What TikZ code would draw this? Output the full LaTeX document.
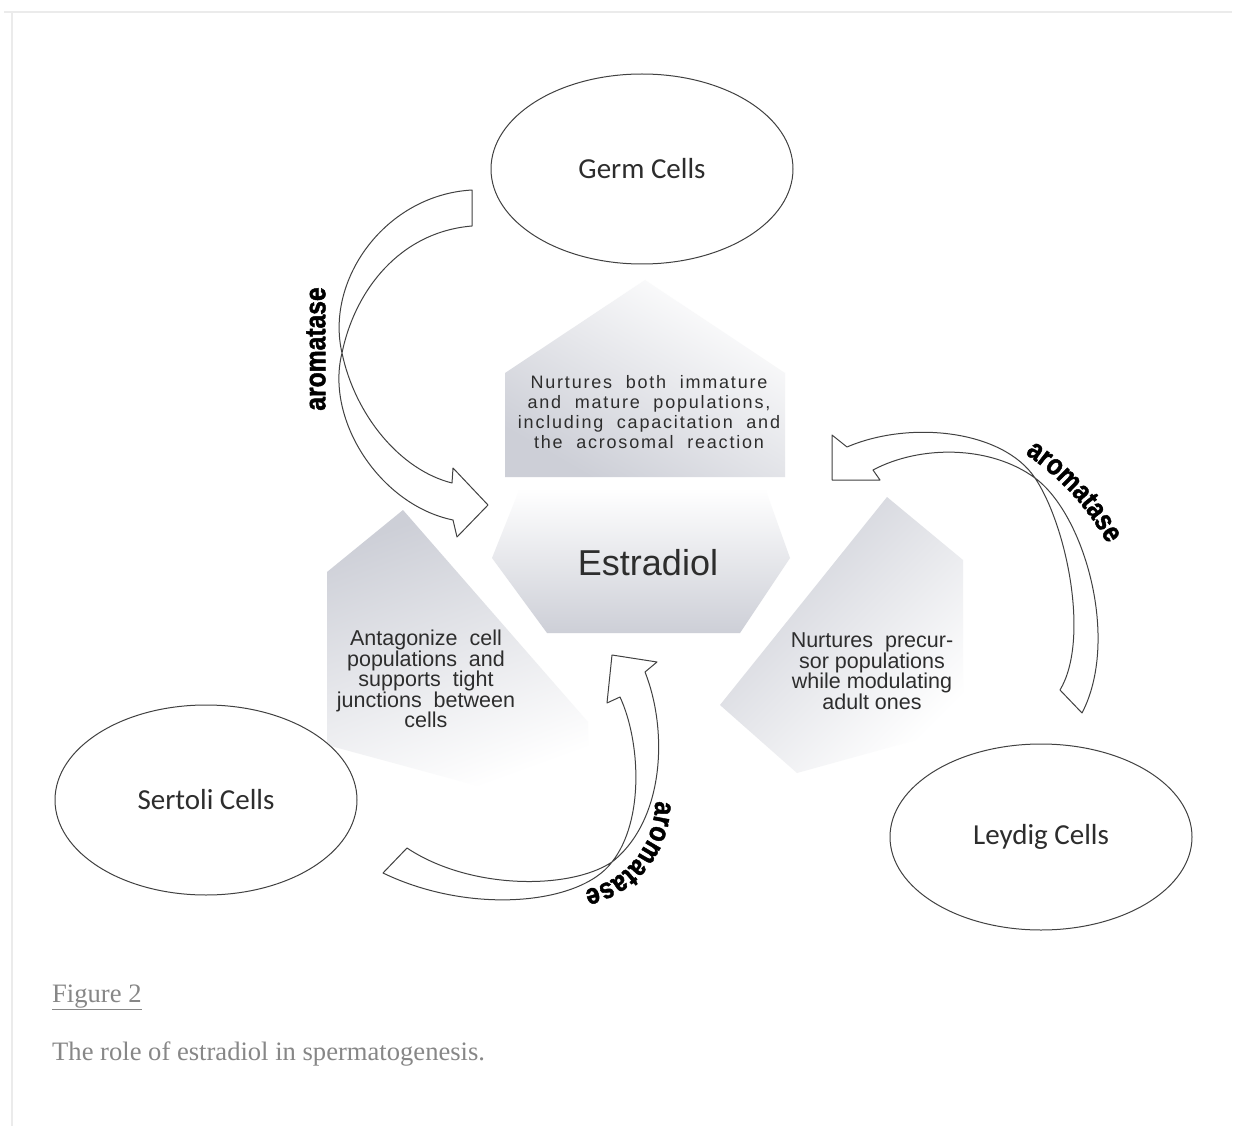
\documentclass[tikz,border=0pt]{standalone}
\usepackage{fontspec}
\setmainfont{Liberation Serif}
\newfontfamily\arialf{Liberation Sans}
\newfontfamily\spacedf{Liberation Sans}[LetterSpace=10]
\newfontfamily\calf{Carlito}
\newfontfamily\aromf{Liberation Sans Bold}[FakeStretch=0.85,FakeBold=1.5]
\usetikzlibrary{shapes.geometric,decorations.text}
\definecolor{pgray}{RGB}{205,207,215}
\definecolor{linec}{RGB}{65,65,65}
\definecolor{txtc}{RGB}{45,45,45}
\definecolor{capc}{RGB}{135,135,135}
\tikzset{
  cellnode/.style={ellipse, draw=linec, line width=1pt, fill=white,
    minimum width=302pt, minimum height=190pt, inner sep=0pt,
    font=\calf\fontsize{29}{30}\selectfont, text=txtc},
  blockarrow/.style={draw=linec, line width=1pt, fill=white, line join=round},
  ptext/.style={align=center, text=txtc, inner sep=0pt},
  aromlabel/.style={font=\aromf\fontsize{29}{29}\selectfont, text=black, inner sep=0pt},
  frameline/.style={draw=black!8, line width=1.5pt}
}
\begin{document}
\begin{tikzpicture}[x=1pt,y=-1pt]
\useasboundingbox (0,0) rectangle (1235,1126);
\fill[white] (0,0) rectangle (1235,1126);
\draw[frameline] (4,12) -- (1232,12);
\draw[frameline] (12,12) -- (12,1126);

% shaded pentagons
\shade[left color=white, right color=pgray, shading angle=-30]
  (645,280) -- (785,373) -- (785,477) -- (505,477) -- (505,373) -- cycle;
\shade[top color=pgray, bottom color=white, shading angle=20]
  (403,510) -- (588,722) -- (588,790) -- (493,790) -- (327,745) -- (327,572) -- cycle;
\shade[left color=pgray, right color=white, shading angle=45]
  (887,497) -- (963,560) -- (963,727) -- (797,773) -- (720,705) -- cycle;
\shade[top color=white, bottom color=pgray]
  (520,488) -- (765,488) -- (790,558) -- (740,633) -- (547,633) -- (492,558) -- cycle;

% texts in pentagons
\node[ptext, font=\spacedf\fontsize{18}{20}\selectfont] (ttop) at (649,412)
  {Nurtures\ \ both\ \ immature\\ and\ \ mature\ \ populations,\\ including\ \ capacitation\ \ and\\ the\ \ acrosomal\ \ reaction};
\node[ptext, font=\arialf\fontsize{21.5}{20.5}\selectfont] (tleft) at (426,679)
  {Antagonize\ \ cell\\ populations\ \ and\\ supports\ \ tight\\ junctions\ \ between\\ cells};
\node[ptext, font=\arialf\fontsize{21.5}{20.5}\selectfont] (tright) at (872,671)
  {Nurtures\ \ precur-\\ sor populations\\ while modulating\\ adult ones};
\node[ptext, font=\arialf\fontsize{36}{40}\selectfont] (estr) at (648,563) {Estradiol};

% curved block arrows
\draw[blockarrow] (472,190) .. controls (385,195) and (325,280) .. (342,353)
  .. controls (355,415) and (400,470) .. (452,483)
  -- (453,468) -- (488,505) -- (457,537) -- (453,520)
  .. controls (380,505) and (325,420) .. (342,353)
  .. controls (355,290) and (400,232) .. (472,226) -- cycle;
\draw[blockarrow] (847,447) .. controls (910,420) and (1003,430) .. (1035,478)
  .. controls (1067,526) and (1090,640) .. (1060,690)
  -- (1082,713)
  .. controls (1120,640) and (1085,515) .. (1035,478)
  .. controls (990,445) and (920,445) .. (873,470)
  -- (880,480) -- (832,480) -- (832,435) -- cycle;
\draw[blockarrow] (620,697) .. controls (640,740) and (645,820) .. (612,862)
  .. controls (580,905) and (470,915) .. (383,873)
  -- (407,848)
  .. controls (470,890) and (570,890) .. (612,862)
  .. controls (665,820) and (668,730) .. (645,672)
  -- (657,662) -- (612,655) -- (607,703) -- cycle;

% aromatase labels
\node[aromlabel, rotate=90] (aromL) at (316,349) {aromatase};
\path[decorate, decoration={text along path, text align=center,
  text={|\aromf\fontsize{29}{29}\selectfont|aromatase}}]
  (883,667) ++(-70:256) arc[start angle=-70, end angle=-15, radius=256];
\path[decorate, decoration={text along path, text align=center,
  text={|\aromf\fontsize{29}{29}\selectfont|aromatase}}]
  (566,803) ++(-10:89) arc[start angle=-10, end angle=87, radius=89];

% cells
\node[cellnode] (germ) at (642,169) {Germ Cells};
\node[cellnode] (sertoli) at (206,800) {Sertoli Cells};
\node[cellnode, minimum height=186pt] (leydig) at (1041,837) {Leydig Cells};

% caption
\node[anchor=base west, inner sep=0pt, text=capc, font=\fontsize{26.6}{30}\selectfont] (fig) at (52,1002) {\underline{Figure 2}};
\node[anchor=base west, inner sep=0pt, text=capc, font=\fontsize{26.6}{30}\selectfont] (cap) at (52,1060) {The role of estradiol in spermatogenesis.};
\end{tikzpicture}
\end{document}
